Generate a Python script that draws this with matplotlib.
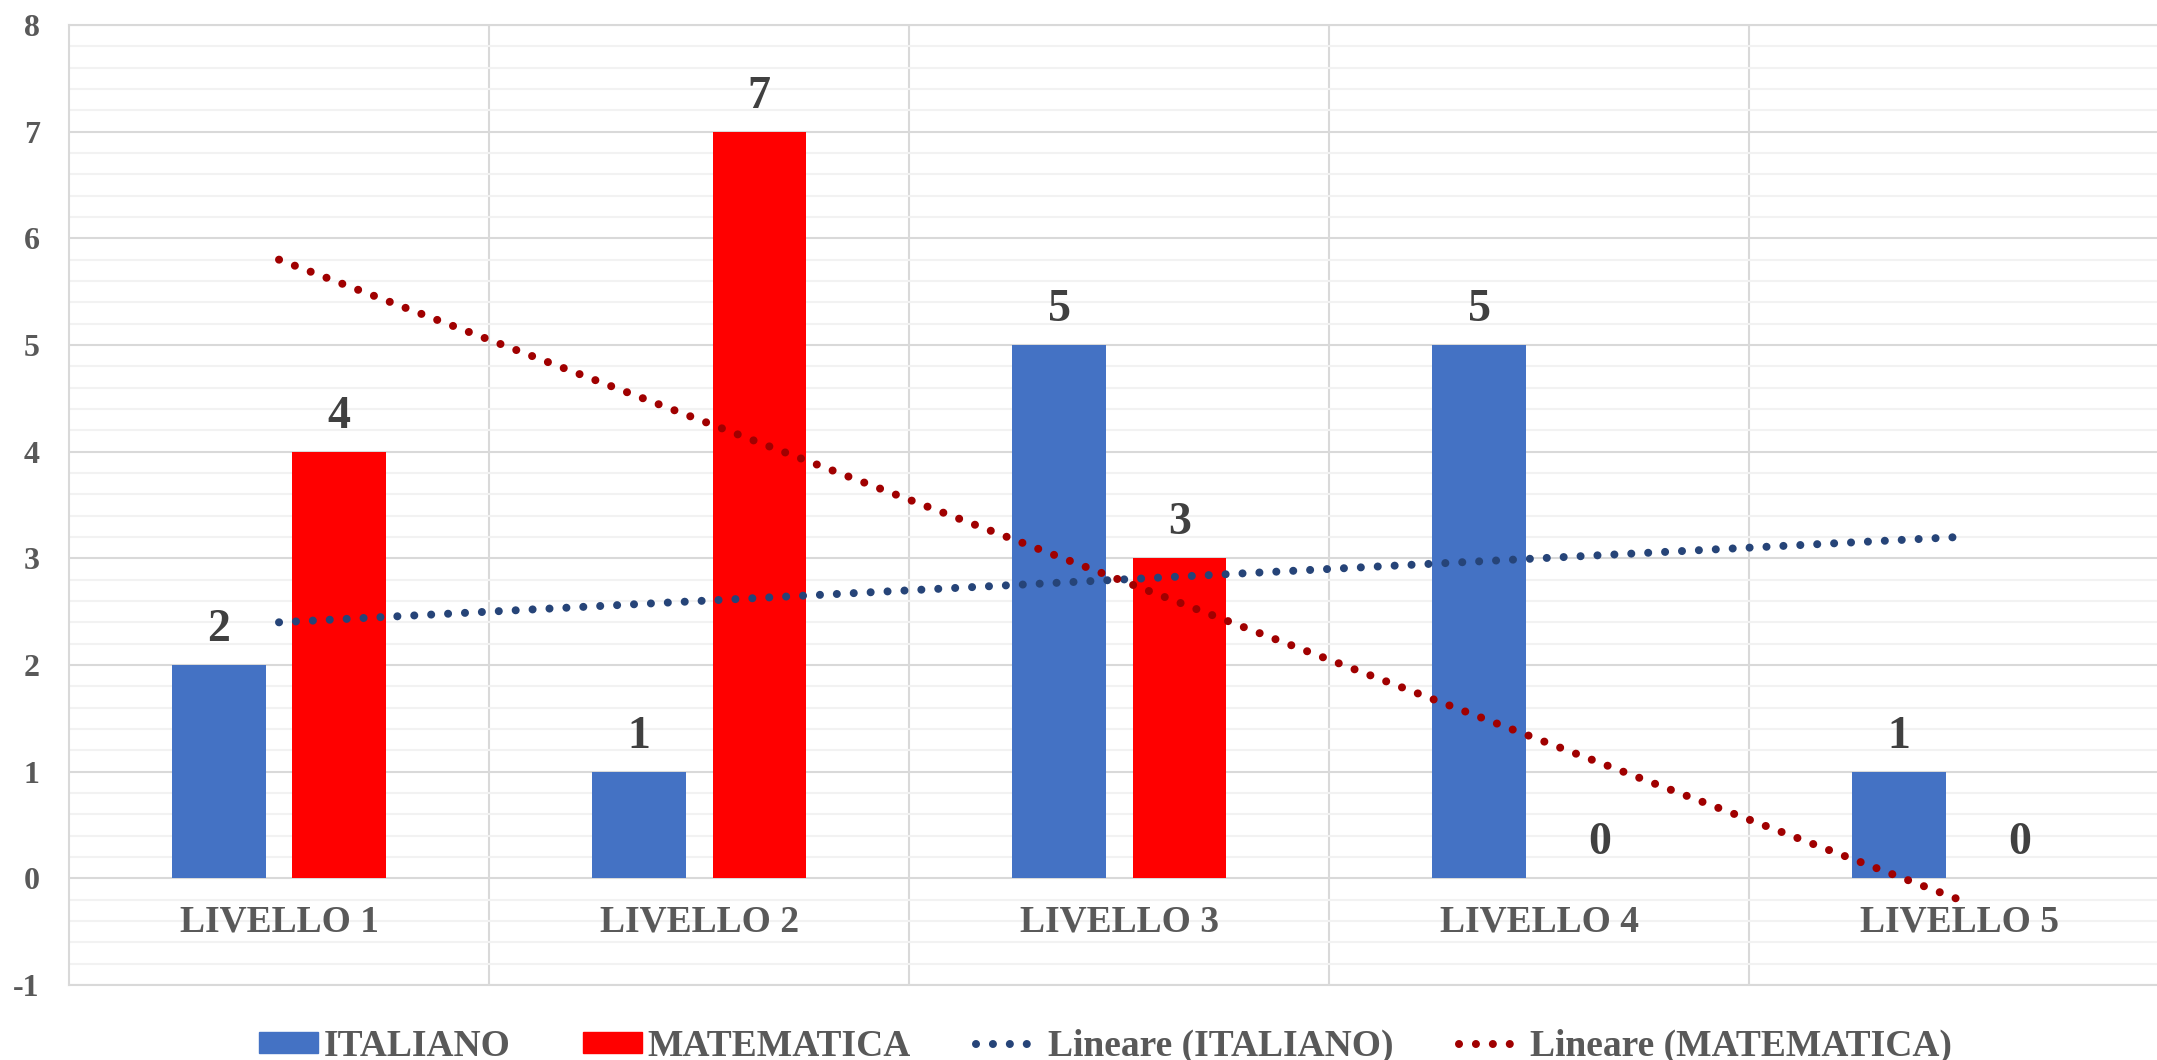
import numpy as np
import matplotlib
matplotlib.use("Agg")
import matplotlib.pyplot as plt
from matplotlib.patches import Patch, Rectangle
from matplotlib.lines import Line2D
from matplotlib.legend_handler import HandlerPatch
from matplotlib.ticker import MultipleLocator

plt.rcParams['font.family'] = ['Liberation Serif', 'DejaVu Serif']
plt.rcParams['font.weight'] = 'bold'
plt.rcParams['axes.unicode_minus'] = False

categories = ["LIVELLO 1", "LIVELLO 2", "LIVELLO 3", "LIVELLO 4", "LIVELLO 5"]
italiano = [2, 1, 5, 5, 1]
matematica = [4, 7, 3, 0, 0]
series_names = ["ITALIANO", "MATEMATICA"]

BLUE, RED = '#4472C4', '#FF0000'
BLUE_TR, RED_TR = '#264478', '#A00000'
GRID, MINOR = '#D9D9D9', '#F2F2F2'
TXT, LBL = '#595959', '#404040'

fig = plt.figure(figsize=(21.57, 10.6), dpi=100)
ax = fig.add_axes([0.032, 0.0708, 0.968, 0.9056])

x = np.arange(len(categories))
w, off = 0.222, 0.143
b1 = ax.bar(x - off, italiano, w, color=BLUE, zorder=3)
b2 = ax.bar(x + off, matematica, w, color=RED, zorder=3)

# linear trend lines (least squares, like Excel's "Lineare")
dot = dict(lw=5.8, linestyle=(0, (0.001, 2.1)), dash_capstyle='round')
for vals, col in [(italiano, BLUE_TR), (matematica, RED_TR)]:
    k, b = np.polyfit(x + 1, vals, 1)
    ax.plot(x, k * (x + 1) + b, color=col, zorder=4, **dot)

for bars in (b1, b2):
    for r in bars:
        ax.annotate(f"{r.get_height():.0f}", (r.get_x() + r.get_width() / 2, r.get_height()),
                    xytext=(0, 10), textcoords='offset points', ha='center', va='bottom',
                    fontsize=33, color=LBL, fontweight='bold', zorder=5)

for i, c in enumerate(categories):
    ax.text(i, -0.41, c, ha='center', va='center', fontsize=27, color=TXT, fontweight='bold')

ax.set_xlim(-0.5, 4.471)
ax.set_ylim(-1, 8)
ax.yaxis.set_major_locator(MultipleLocator(1))
ax.yaxis.set_minor_locator(MultipleLocator(0.2))
ax.set_xticks(np.arange(0.5, 4.5, 1.0))
ax.set_xticklabels([])
ax.tick_params(axis='x', length=0)
ax.tick_params(axis='y', which='both', length=0, pad=21, labelsize=23, labelcolor=TXT)
for t in ax.get_yticklabels():
    t.set_fontweight('bold')
ax.grid(axis='y', which='major', color=GRID, lw=1.5, zorder=1)
ax.grid(axis='y', which='minor', color=MINOR, lw=1.5, zorder=0)
ax.grid(axis='x', which='major', color=GRID, lw=1.5, zorder=1)
ax.set_axisbelow(True)
for s in ax.spines.values():
    s.set_color(GRID)
    s.set_linewidth(1.5)
ax.spines['right'].set_visible(False)


def small_box(legend, orig_handle, xdescent, ydescent, width, height, fontsize):
    # box a bit narrower than the dotted handles, sitting next to the label
    pw = width * 0.9
    return Rectangle((-xdescent + width - pw, -ydescent), pw, height)


handles = [
    Patch(color=BLUE, label=series_names[0]),
    Patch(color=RED, label=series_names[1]),
    Line2D([], [], color=BLUE_TR, label="Lineare (ITALIANO)", **dot),
    Line2D([], [], color=RED_TR, label="Lineare (MATEMATICA)", **dot),
]
leg = fig.legend(handles=handles, loc='center', bbox_to_anchor=(0.511, 0.013), ncol=4,
                 frameon=False, fontsize=27, handlelength=1.75, handleheight=0.5,
                 handletextpad=0.15, columnspacing=1.75, labelcolor=TXT,
                 handler_map={Patch: HandlerPatch(patch_func=small_box)})
for t in leg.get_texts():
    t.set_fontweight('bold')

fig.savefig("out.png", dpi=100)
